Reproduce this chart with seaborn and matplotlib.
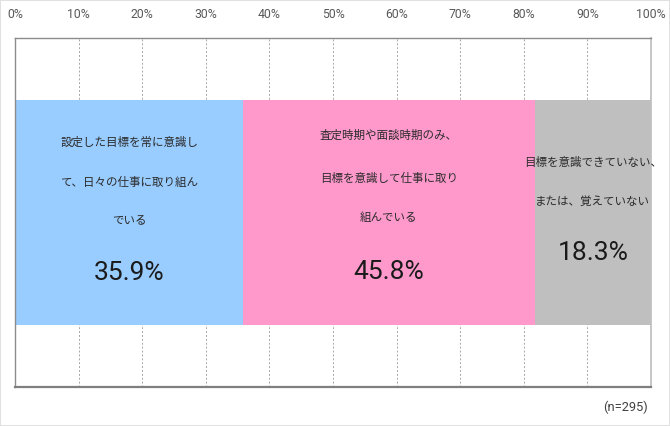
import numpy as np
import pandas as pd
import matplotlib
matplotlib.use("Agg")
import matplotlib.pyplot as plt
import seaborn as sns

# data
categories = ["設定した目標を常に意識し\nて、日々の仕事に取り組ん\nでいる",
              "査定時期や面談時期のみ、\n目標を意識して仕事に取り\n組んでいる",
              "目標を意識できていない、\nまたは、覚えていない"]
values = [35.9, 45.8, 18.3]
colors = ["#99CCFF", "#FF99CC", "#BFBFBF"]
tick_labels = [f"{t}%" for t in range(0, 101, 10)]
note = "(n=295)"

sns.set_theme(style="white")
plt.rcParams['font.family'] = ['Noto Sans CJK JP', 'DejaVu Sans']
num_font = ['Roboto', 'DejaVu Sans']

fig = plt.figure(figsize=(6.7, 4.26), dpi=100)
fig.patch.set_edgecolor("#e0e0e0")
fig.patch.set_linewidth(1.2)
ax = fig.add_axes([15 / 670, 1 - 387 / 426, 636 / 670, 349 / 426])

df = pd.DataFrame({"cat": categories, "value": values, "color": colors})
df["end"] = df["value"].cumsum()

# stacked bar: draw cumulative totals from the last segment back to the first
for i in range(len(df) - 1, -1, -1):
    sns.barplot(x=[df["end"][i]], y=[0], orient="h", color=df["color"][i],
                width=0.642, saturation=1, linewidth=0, ax=ax, zorder=2)

ax.set_xlim(0, 100)
ax.set_ylim(0.5, -0.5)
ax.set_xticks(np.arange(0, 101, 10))
ax.set_xticklabels(tick_labels, family=num_font, fontsize=8.8, color="#595959")
ax.xaxis.tick_top()
ax.tick_params(axis="x", length=0, pad=12)
ax.set_yticks([])
ax.set_xlabel("")
ax.set_ylabel("")
ax.grid(axis="x", linestyle=(0, (2, 2)), color="#a6a6a6", linewidth=0.7, zorder=1)
ax.set_axisbelow(True)

for side in ["top", "left"]:
    ax.spines[side].set_color("#8c8c8c")
    ax.spines[side].set_linewidth(1.0)
ax.spines["right"].set_color("#bfbfbf")
ax.spines["bottom"].set_color("#7f7f7f")
ax.spines["bottom"].set_linewidth(1.6)

# labels inside segments (pixel rows converted to axes fraction)
def ay(py):
    return 1 - (py - 38) / 349

label_rows = [[142, 182, 220], [135, 178, 218], [162, 201]]
pct_rows = [273, 272, 253]
starts = df["end"] - df["value"]
for i in range(len(df)):
    cx = starts[i] + df["value"][i] / 2
    for line, py in zip(df["cat"][i].split("\n"), label_rows[i]):
        ax.text(cx, ay(py), line, transform=ax.get_xaxis_transform(),
                ha="center", va="center", fontsize=8.3, color="#2b2b2b", zorder=3)
    ax.text(cx, ay(pct_rows[i]), f"{df['value'][i]:.1f}%",
            transform=ax.get_xaxis_transform(), ha="center", va="center",
            family=num_font, fontsize=19, color="#1a1a1a", zorder=3)

fig.text(648 / 670, 1 - 407 / 426, note, ha="right", va="center",
         family=num_font, fontsize=9.3, color="#404040")

fig.savefig("out.png", dpi=100)
